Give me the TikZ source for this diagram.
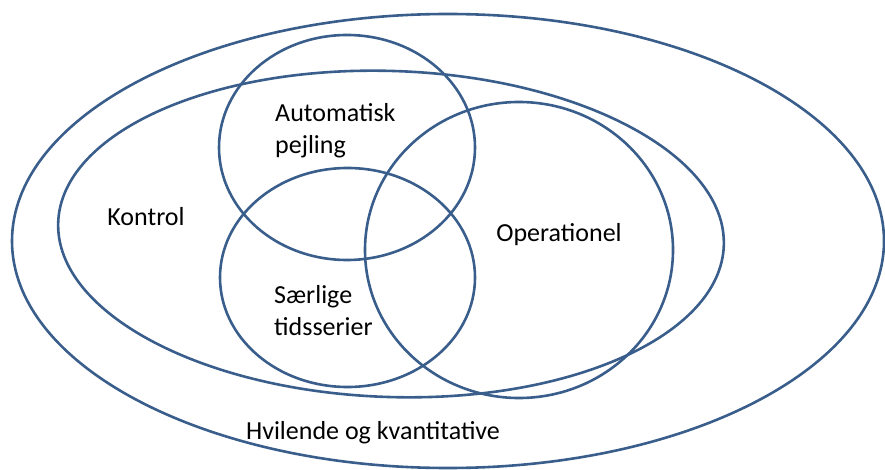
\documentclass[tikz,border=0pt]{standalone}
\usepackage{fontspec}
\setmainfont{Carlito}
\definecolor{ringblue}{RGB}{58,94,140}
\begin{document}
\begin{tikzpicture}[x=1pt,y=-1pt,
  ring/.style={draw=ringblue,line width=2.6pt},
  lbl/.style={font=\fontsize{26}{32}\selectfont,text=black,inner sep=0pt}]
\useasboundingbox (0,0) rectangle (885,470);
% outer
\draw[ring] (448,241) ellipse [x radius=436,y radius=227];
% Kontrol
\draw[ring,rotate around={-2:(391,234)}] (391,234) ellipse [x radius=333,y radius=163];
% Automatisk pejling
\draw[ring] (347,147.5) ellipse [x radius=128,y radius=112.5];
% Saerlige tidsserier
\draw[ring] (347.5,277.5) ellipse [x radius=127.5,y radius=109.5];
% Operationel
\draw[ring] (519,250) ellipse [x radius=154,y radius=148];
% labels
\node[lbl] (kontrol) at (146,217) {Kontrol};
\node[lbl,align=left,anchor=west] (auto) at (275,131) {Automatisk\\pejling};
\node[lbl,align=left,anchor=west] (saer) at (274,311) {Særlige\\tidsserier};
\node[lbl] (oper) at (559,235) {Operationel};
\node[lbl] (hvil) at (373,433) {Hvilende og kvantitative};
\end{tikzpicture}
\end{document}
